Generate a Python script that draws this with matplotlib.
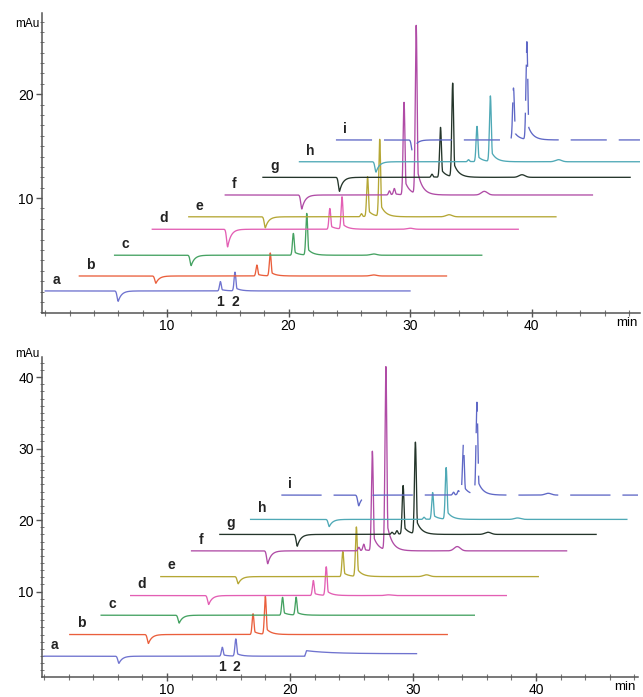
import matplotlib.pyplot as plt
import numpy as np
from matplotlib.ticker import MultipleLocator

plt.rcParams['font.family'] = ['Liberation Sans', 'DejaVu Sans']
plt.rcParams['lines.scale_dashes'] = False

labels = ['a', 'b', 'c', 'd', 'e', 'f', 'g', 'h', 'i']
colors = ['#6f73cf', '#ea5f3c', '#45a262', '#e35fb4', '#b5a735',
          '#b04ca6', '#24352a', '#4fa9b6', '#5f68c6']

# upper set of runs (min / mAu)
top_start = [0.0, 2.8, 5.7, 8.8, 11.8, 14.8, 17.9, 20.9, 23.9]
top_end = [30.0, 33.0, 35.9, 38.9, 42.0, 45.0, 48.1, 51.0, 51.0]
top_base = [1.06, 2.5, 4.5, 7.0, 8.2, 10.3, 12.0, 13.5, 15.6]
top_dip_t = [6.0, 9.1, 12.0, 15.0, 18.1, 21.1, 24.2, 27.2, 30.2]
top_dip_d = [1.0, 0.7, 1.0, 1.7, 1.06, 1.35, 1.35, 1.0, 1.2]
top_peaks = [
    [(14.4, 0.9), (15.6, 1.8)],
    [(17.4, 1.05), (18.5, 2.2)],
    [(20.4, 2.1), (21.5, 4.0)],
    [(23.4, 2.0), (24.4, 3.1)],
    [(26.0, 0.3), (26.5, 3.85), (27.5, 7.4)],
    [(28.3, 0.4), (28.7, 0.6), (29.5, 8.9), (30.5, 16.2)],
    [(31.8, 0.3), (32.5, 4.8), (33.5, 9.0)],
    [(34.8, 0.2), (35.5, 3.4), (36.6, 6.3)],
    [(38.5, 5.0), (39.6, 9.4)],
]
top_bumps = [[], [(27.0, 0.1)], [(27.0, 0.12)], [(30.0, 0.1)], [(33.2, 0.2)],
             [(36.1, 0.35)], [(39.2, 0.25)], [(42.2, 0.2)], []]
top_mau = 26.8

# lower set of runs
bot_start = [0.0, 2.1, 4.65, 7.05, 9.5, 12.0, 14.3, 16.8, 19.3]
bot_end = [30.3, 32.8, 35.0, 37.6, 40.2, 42.5, 44.9, 47.4, 51.0]
bot_base = [0.97, 4.0, 6.7, 9.45, 12.1, 15.7, 18.0, 20.1, 23.5]
bot_dip_t = [6.1, 8.5, 11.0, 13.4, 15.8, 18.2, 20.6, 23.2, 25.6]
bot_dip_d = [1.0, 1.25, 1.1, 1.25, 1.0, 1.8, 1.65, 1.0, 1.5]
bot_peaks = [
    [(14.5, 1.25), (15.6, 2.4)],
    [(17.0, 2.9), (18.0, 5.3)],
    [(19.4, 2.5), (20.5, 2.5)],
    [(21.9, 2.1), (22.95, 4.0)],
    [(24.3, 3.5), (25.4, 6.9)],
    [(25.6, 0.5), (26.0, 0.9), (26.7, 13.9), (27.8, 25.6)],
    [(28.3, 0.3), (28.7, 0.5), (29.2, 6.8), (30.2, 12.8)],
    [(30.9, 0.3), (31.6, 3.75), (32.7, 7.2)],
    [(33.3, 0.4), (33.7, 0.6), (34.1, 7.1), (35.2, 12.9)],
]
bot_bumps = [[], [], [], [(28.0, 0.1)], [(31.1, 0.25)], [(33.6, 0.6)],
             [(36.1, 0.3)], [(38.5, 0.2)], [(41.0, 0.25)]]
bot_a_step = (21.2, 0.8, 0.35)  # onset, height, level it settles to
bot_mau = 43.2


def build_trace(t0, t1, base, dip_t, dip_d, peaks, bumps, step=None):
    t = np.arange(t0, t1, 0.01)
    y = np.full_like(t, base)
    # negative system peak
    dt = t - dip_t
    y -= dip_d * np.where(dt < 0, np.exp(-0.5 * (dt / 0.09) ** 2), np.exp(-dt / 0.28))
    for tp, h in peaks:
        dt = t - tp
        g = np.exp(-0.5 * (dt / 0.075) ** 2)
        tail = np.where(dt > 0, 0.18 * np.exp(-dt / 0.4), 0)
        y += h * np.maximum(g, tail)
    for tb, h in bumps:
        y += h * np.exp(-0.5 * ((t - tb) / 0.25) ** 2)
    if step is not None:
        ts, hs, lvl = step
        dt = t - ts
        rise = np.clip(dt / 0.15, 0, 1)
        y += rise * (lvl + (hs - lvl) * np.exp(-np.clip(dt, 0, None) / 2.0))
    return t, y


def style_axes(ax, yticks, mau_y):
    for s in ['top', 'right']:
        ax.spines[s].set_visible(False)
    for s in ['left', 'bottom']:
        ax.spines[s].set_color('#555555')
        ax.spines[s].set_linewidth(1.1)
    ax.set_xticks([10, 20, 30, 40])
    ax.set_yticks(yticks)
    ax.xaxis.set_minor_locator(MultipleLocator(2))
    ax.yaxis.set_minor_locator(MultipleLocator(1))
    ax.tick_params(axis='x', which='major', direction='inout', length=6, width=1,
                   color='#555555', labelsize=10, pad=1)
    ax.tick_params(axis='x', which='minor', direction='inout', length=4, width=0.8, color='#777777')
    ax.tick_params(axis='y', which='major', direction='out', length=4, width=1,
                   color='#555555', labelsize=10, pad=2)
    ax.tick_params(axis='y', which='minor', direction='inout', length=3, width=0.7, color='#777777')
    ax.annotate('mAu', xy=(0, mau_y), xycoords=('axes fraction', 'data'), xytext=(-2, 0),
                textcoords='offset points', ha='right', va='center', fontsize=8.5,
                annotation_clip=False)
    ax.annotate('min', xy=(0.978, 0), xycoords='axes fraction', xytext=(0, -3),
                textcoords='offset points', ha='center', va='top', fontsize=9.5)


def draw_panel(ax, start, end, base, dip_t, dip_d, peaks, bumps, dash, step=None):
    for k in range(len(labels)):
        st = step if k == 0 else None
        t, y = build_trace(start[k], end[k], base[k], dip_t[k], dip_d[k],
                           peaks[k], bumps[k], st)
        line, = ax.plot(t, y, color=colors[k], lw=0.95)
        if labels[k] == 'i':
            line.set_dashes(dash)
        ax.annotate(labels[k], xy=(start[k], base[k]), xytext=(5, 3),
                    textcoords='offset points', ha='left', va='bottom',
                    fontsize=10, fontweight='bold', color='#222222')
    # compound numbers under trace a
    for n, (tp, h) in enumerate(peaks[0]):
        ax.annotate(str(n + 1), xy=(tp, base[0]), xytext=(0, -3),
                    textcoords='offset points', ha='center', va='top',
                    fontsize=10, fontweight='bold', color='#222222')


fig = plt.figure(figsize=(6.43, 6.97), dpi=100)

ax1 = fig.add_axes([0.0653, 0.551, 0.930, 0.430])
draw_panel(ax1, top_start, top_end, top_base, top_dip_t, top_dip_d,
           top_peaks, top_bumps, (26, 8.6))
ax1.set_xlim(-0.27, 48.9)
ax1.set_ylim(-1.06, 27.8)
style_axes(ax1, [10, 20], top_mau)

ax2 = fig.add_axes([0.0653, 0.0287, 0.927, 0.459])
draw_panel(ax2, bot_start, bot_end, bot_base, bot_dip_t, bot_dip_d,
           bot_peaks, bot_bumps, (29, 8.6), bot_a_step)
ax2.set_xlim(-0.16, 48.3)
ax2.set_ylim(-1.94, 42.8)
style_axes(ax2, [10, 20, 30, 40], bot_mau)

fig.savefig('out.png', dpi=100)
